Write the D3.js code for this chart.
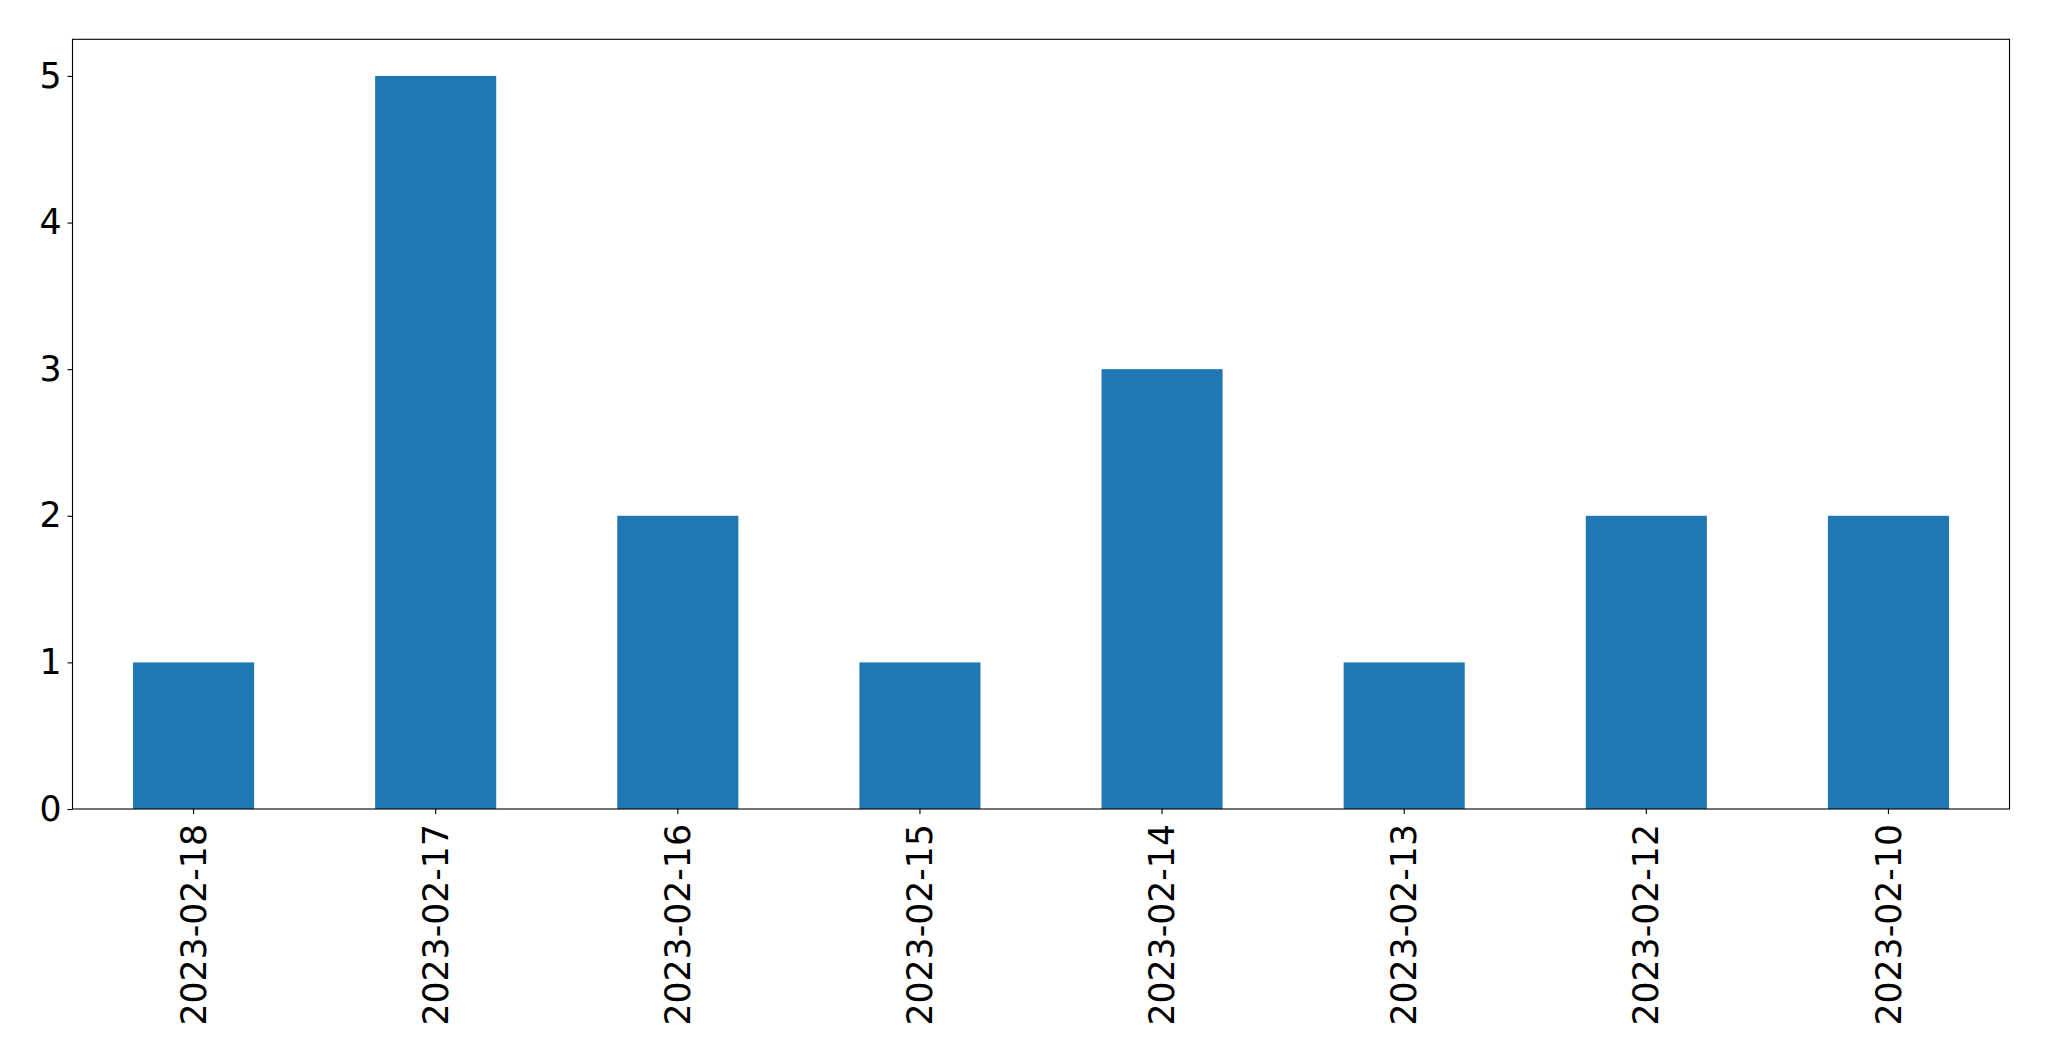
<!DOCTYPE html>
<html><head><meta charset="utf-8">
<script src="https://cdn.jsdelivr.net/npm/d3@7"></script>
<style>body{margin:0;background:#fff}svg{display:block}text{font-family:"DejaVu Sans",sans-serif}</style>
</head><body>
<script>
const categories = ["2023-02-18","2023-02-17","2023-02-16","2023-02-15","2023-02-14","2023-02-13","2023-02-12","2023-02-10"];
const values = [1,5,2,1,3,1,2,2];
const yTicks = [0,1,2,3,4,5];

const W = 2049, H = 1061;
const m = {left: 72.5, right: 2049 - 2009.5, top: 39.3, bottom: 1061 - 809};
const svg = d3.select("body").append("svg").attr("width", W).attr("height", H);
const x = d3.scaleBand().domain(categories).range([m.left, W - m.right]).paddingInner(0.5).paddingOuter(0.25);
const y = d3.scaleLinear().domain([0, 5.25]).range([H - m.bottom, m.top]);

svg.append("g").selectAll("rect").data(values).join("rect")
  .attr("x", (d,i) => x(categories[i])).attr("width", x.bandwidth())
  .attr("y", d => y(d)).attr("height", d => y(0) - y(d))
  .attr("fill", "#1f77b4");

const fs = 34.7;
const yAxis = svg.append("g").attr("transform", `translate(${m.left},0)`)
  .call(d3.axisLeft(y).tickValues(yTicks).tickFormat(d3.format("d")).tickSize(5).tickPadding(6));
const xAxis = svg.append("g").attr("transform", `translate(0,${H - m.bottom})`)
  .call(d3.axisBottom(x).tickSize(5).tickPadding(8));
[yAxis, xAxis].forEach(a => {
  a.select(".domain").remove();
  a.selectAll("line").attr("stroke", "#000").attr("stroke-width", 1.1);
  a.selectAll("text").attr("font-size", fs).attr("fill", "#000").attr("font-family", "DejaVu Sans");
});
xAxis.selectAll("text").attr("transform", "rotate(-90)").attr("text-anchor", "end")
  .attr("x", -15).attr("y", 0).attr("dy", "0.35em");

svg.append("rect").attr("x", m.left).attr("y", m.top)
  .attr("width", W - m.right - m.left).attr("height", H - m.bottom - m.top)
  .attr("fill", "none").attr("stroke", "#000").attr("stroke-width", 1.1);
</script>
</body></html>
